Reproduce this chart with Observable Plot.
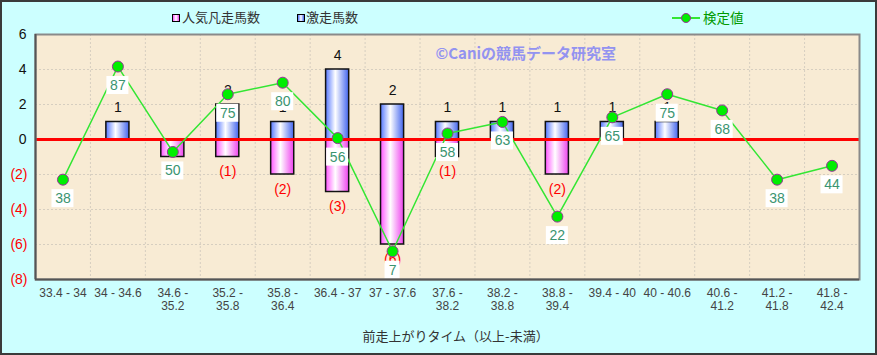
<!DOCTYPE html>
<html>
<head>
<meta charset="utf-8">
<script src="https://cdn.jsdelivr.net/npm/d3@7"></script>
<script src="https://cdn.jsdelivr.net/npm/@observablehq/plot@0.6"></script>
<style>
  html, body { margin: 0; padding: 0; }
  #wrap {
    position: relative; width: 877px; height: 355px; overflow: hidden;
    background: #CCFFFF; box-shadow: inset 0 0 0 2px #3a3a3a;
    font-family: 'Liberation Sans', 'Noto Sans CJK JP', sans-serif;
  }
  #chart { position: absolute; left: 0; top: 0; }
  .leg { position: absolute; top: 9px; font-size: 13px; line-height: 16px; color: #333;
         font-family: 'Noto Sans CJK JP', sans-serif; white-space: nowrap; }
  .ico { position: absolute; top: 14px; width: 6px; height: 6px; border: 1px solid #000; }
</style>
</head>
<body>
<svg width="0" height="0" style="position:absolute">
  <defs>
    <linearGradient id="gBlue" x1="0" x2="1" y1="0" y2="0">
      <stop offset="0" stop-color="#5577ff"/>
      <stop offset="0.42" stop-color="#ffffff"/>
      <stop offset="1" stop-color="#4466ee"/>
    </linearGradient>
    <linearGradient id="gPink" x1="0" x2="1" y1="0" y2="0">
      <stop offset="0" stop-color="#ff55ff"/>
      <stop offset="0.42" stop-color="#ffffff"/>
      <stop offset="1" stop-color="#ee44ee"/>
    </linearGradient>
  </defs>
</svg>
<div id="wrap">
  <div id="chart"></div>
  <span class="ico" style="left:172px;background:linear-gradient(90deg,#ff55ff,#fff,#ee44ee)"></span>
  <span class="leg" style="left:182px">人気凡走馬数</span>
  <span class="ico" style="left:297px;background:linear-gradient(90deg,#5577ff,#fff,#4466ee)"></span>
  <span class="leg" style="left:306px">激走馬数</span>
  <svg style="position:absolute;left:670px;top:10px" width="32" height="16">
    <line x1="2" y1="8" x2="30" y2="8" stroke="#33e633" stroke-width="2"/>
    <circle cx="16" cy="8" r="4.5" fill="#00ee00" stroke="#993399" stroke-width="1"/>
  </svg>
  <span class="leg" style="left:703px;color:#009900;font-size:13.5px">検定値</span>
</div>
<script>
// ---- data ----
const categories = ["33.4 - 34", "34 - 34.6", "34.6 -\n35.2", "35.2 -\n35.8", "35.8 -\n36.4",
  "36.4 - 37", "37 - 37.6", "37.6 -\n38.2", "38.2 -\n38.8", "38.8 -\n39.4",
  "39.4 - 40", "40 - 40.6", "40.6 -\n41.2", "41.2 -\n41.8", "41.8 -\n42.4"];
const gekisou = [0, 1, 0, 2, 1, 4, 2, 1, 1, 1, 1, 1, 0, 0, 0];          // 激走馬数
const ninki = [0, 0, -1, -1, -2, -3, -6, -1, 0, -2, 0, 0, 0, 0, 0];      // 人気凡走馬数
const kentei = [38, 87, 50, 75, 80, 56, 7, 58, 63, 22, 65, 75, 68, 38, 44]; // 検定値
const yTicks = [6, 4, 2, 0, -2, -4, -6, -8];
const gridY = [4, 2, -2, -4, -6];
const xTitle = "前走上がりタイム（以上-未満）";
const watermark = "©Caniの競馬データ研究室";

// secondary (hidden) axis for 検定値 mapped onto the primary axis
const K_ZERO = 55.4, K_PER_UNIT = 7.58;

const rows = categories.map((c, i) => ({
  i, cat: c, g: gekisou[i], n: ninki[i], k: kentei[i],
  ky: (kentei[i] - K_ZERO) / K_PER_UNIT,
  hw: (String(kentei[i]).length * 7 + 8) / 2 / 54.9
}));

const HALF = 0.21;
const font = "'Liberation Sans', 'Noto Sans CJK JP', sans-serif";

const chart = Plot.plot({
  width: 877, height: 355,
  marginLeft: 35, marginRight: 18, marginTop: 34, marginBottom: 76,
  x: { domain: [-0.5, 14.5], axis: null },
  y: { domain: [-8, 6], axis: null },
  style: { background: "transparent", fontFamily: font, overflow: "visible" },
  marks: [
    Plot.frame({ fill: "#F8EBD4" }),
    Plot.ruleY(gridY, { stroke: "#d6cec0", strokeDasharray: "2,2" }),
    Plot.ruleX(rows.slice(1), { x: d => d.i - 0.5, stroke: "#d6cec0", strokeDasharray: "2,2" }),
    Plot.text([watermark], { frameAnchor: "top-left", dx: 400, dy: 14, text: d => d, textAnchor: "start",
      fill: "#9393f0", fontSize: 15, fontWeight: "bold", fontFamily: "'Noto Sans CJK JP', sans-serif" }),
    Plot.rectY(rows.filter(d => d.g > 0), { x1: d => d.i - HALF, x2: d => d.i + HALF, y1: 0, y2: "g",
      fill: "url(#gBlue)", stroke: "#111", strokeWidth: 1.5 }),
    Plot.rectY(rows.filter(d => d.n < 0), { x1: d => d.i - HALF, x2: d => d.i + HALF, y1: 0, y2: "n",
      fill: "url(#gPink)", stroke: "#111", strokeWidth: 1.5 }),
    Plot.ruleY([0], { stroke: "#ff0000", strokeWidth: 3 }),
    Plot.text(rows.filter(d => d.g > 0), { x: "i", y: "g", text: d => String(d.g), dy: -14, fill: "#111", fontSize: 14 }),
    Plot.text(rows.filter(d => d.n < 0), { x: "i", y: "n", text: d => `(${-d.n})`, dy: 15, fill: "#ff0000", fontSize: 14 }),
    Plot.line(rows, { x: "i", y: "ky", stroke: "#33e633", strokeWidth: 1.5 }),
    Plot.dot(rows, { x: "i", y: "ky", r: 5.5, fill: "#00ee00", stroke: "#993399", strokeWidth: 1 }),
    Plot.rect(rows, { x1: d => d.i - d.hw, x2: d => d.i + d.hw,
      y1: d => d.ky - 19 / 17.5 - 9 / 17.5, y2: d => d.ky - 19 / 17.5 + 9 / 17.5, fill: "#ffffff" }),
    Plot.text(rows, { x: "i", y: "ky", text: d => String(d.k), dy: 19, fill: "#3a9470", fontSize: 14 }),
    Plot.text(yTicks.filter(d => d >= 0), { x: -0.5, y: d => d, text: d => String(d), textAnchor: "end", dx: -9,
      fill: "#111", fontSize: 14 }),
    Plot.text(yTicks.filter(d => d < 0), { x: -0.5, y: d => d, text: d => `(${-d})`, textAnchor: "end", dx: -8,
      fill: "#ff0000", fontSize: 14 }),
    Plot.frame({ stroke: "#8a8a8a", strokeWidth: 2 }),
    Plot.ruleX([-0.5], { stroke: "#555", strokeWidth: 2 }),
    Plot.ruleY([-8], { stroke: "#555", strokeWidth: 2 }),
    Plot.text(rows, { x: "i", y: -8, text: "cat", lineAnchor: "top", dy: 9, fill: "#444", fontSize: 12, lineHeight: 1.05 }),
    Plot.text([xTitle], { frameAnchor: "bottom", dx: 8, dy: 61, text: d => d, fill: "#333", fontSize: 13,
      fontFamily: "'Noto Sans CJK JP', sans-serif" })
  ]
});
document.getElementById("chart").appendChild(chart);
</script>
</body>
</html>
